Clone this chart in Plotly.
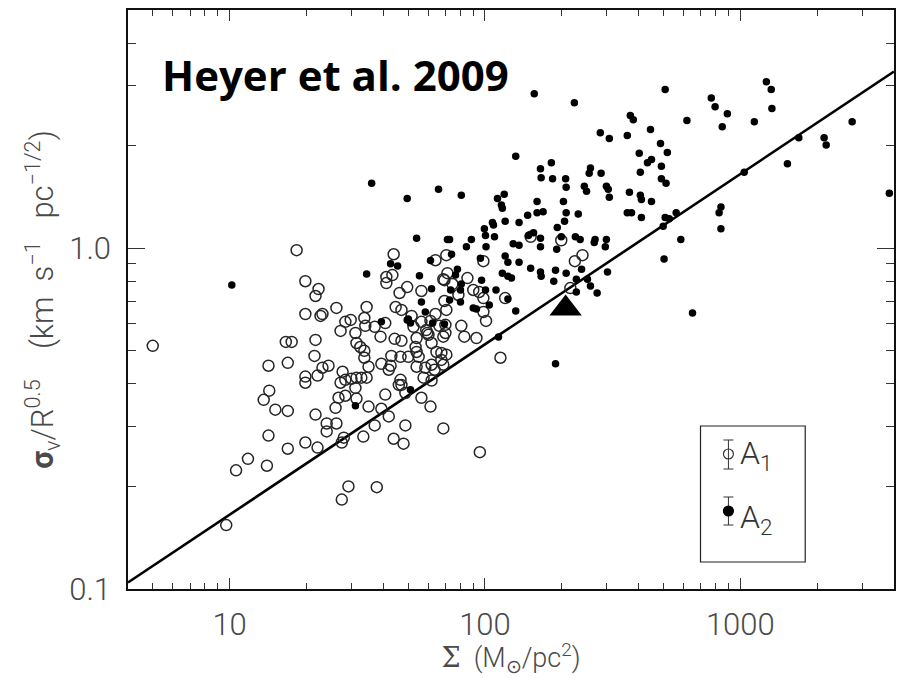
import plotly.graph_objects as go

# ---------------- data ----------------
# A1 clouds (open circles): surface density (Msun/pc^2) and sigma_v/R^0.5
a1_surf = [18.3, 5.0, 43.9, 64.0, 70.6, 19.8, 22.3, 21.7, 41.1, 43.4, 41.1, 49.6, 46.3, 56.4, 68.7,
           26.2, 34.4, 19.8, 22.7, 23.1, 44.7, 47.1, 64.0, 69.4, 28.4, 29.8, 27.2, 33.7, 34.0, 37.0,
           40.7, 39.0, 51.6, 52.5, 56.4, 58.9, 54.0, 60.1, 61.8, 68.7, 67.5, 16.6, 17.5, 21.7, 31.4,
           32.5, 33.7, 44.3, 47.1, 21.5, 33.7, 35.0, 43.0, 46.7, 50.1, 54.0, 55.0, 54.0, 58.4, 61.8,
           16.9, 14.2, 24.4, 23.1, 22.1, 19.8, 19.8, 27.7, 27.2, 28.4, 30.0, 31.4, 32.8, 34.4, 31.1,
           39.3, 42.7, 42.0, 46.7, 47.1, 46.0, 48.8, 40.7, 61.8, 14.3, 13.6, 15.1, 16.9, 26.7, 28.4,
           26.0, 31.4, 35.0, 39.3, 42.0, 56.4, 61.2, 21.7, 26.2, 24.0, 24.0, 37.0, 48.8, 68.7, 14.2,
           19.8, 16.9, 22.1, 28.0, 27.5, 33.4, 43.9, 48.0, 11.8, 10.6, 14.0, 9.7, 98.6, 71.3, 69.4,
           74.6, 85.4, 90.0, 95.0, 98.6, 78.7, 120, 151, 199, 225, 241, 216, 70.6, 61.2, 66.3,
           70.0, 80.8, 70.0, 59.5, 92.6, 83.0, 101, 98.6, 53.5, 64.6, 70.6, 67.5, 63.5, 57.5,
           68.7, 115, 31.1, 27.5, 29.2, 37.7, 95.5]
a1_val = [0.987, 0.517, 0.960, 0.922, 0.954, 0.800, 0.759, 0.724, 0.823, 0.834, 0.790, 0.769, 0.739, 0.749, 0.811,
          0.668, 0.672, 0.641, 0.633, 0.641, 0.672, 0.659, 0.641, 0.700, 0.608, 0.616, 0.572, 0.624, 0.592, 0.588,
          0.603, 0.550, 0.633, 0.588, 0.608, 0.575, 0.545, 0.557, 0.527, 0.550, 0.493, 0.531, 0.531, 0.538, 0.527,
          0.513, 0.500, 0.542, 0.535, 0.483, 0.477, 0.449, 0.483, 0.480, 0.480, 0.496, 0.480, 0.449, 0.446, 0.455,
          0.461, 0.452, 0.452, 0.446, 0.423, 0.420, 0.403, 0.434, 0.403, 0.411, 0.414, 0.417, 0.417, 0.417, 0.389,
          0.458, 0.452, 0.440, 0.411, 0.397, 0.397, 0.376, 0.372, 0.409, 0.382, 0.359, 0.336, 0.333, 0.364, 0.369,
          0.340, 0.362, 0.343, 0.338, 0.321, 0.364, 0.343, 0.325, 0.306, 0.306, 0.290, 0.302, 0.302, 0.296, 0.282,
          0.269, 0.258, 0.260, 0.278, 0.269, 0.280, 0.276, 0.267, 0.241, 0.223, 0.230, 0.154, 0.916, 0.845, 0.806,
          0.785, 0.817, 0.754, 0.744, 0.714, 0.729, 0.714, 1.080, 1.055, 0.916, 0.954, 0.764, 0.659, 0.612, 0.592,
          0.596, 0.592, 0.564, 0.564, 0.545, 0.550, 0.612, 0.650, 0.513, 0.496, 0.487, 0.470, 0.440, 0.417,
          0.455, 0.477, 0.564, 0.183, 0.200, 0.199, 0.252]

# A2 clouds (filled circles)
a2_surf = [36.0, 49.6, 65.8, 54.0, 71.3, 10.2, 42.7, 45.5, 61.2, 34.4, 55.4, 61.8, 56.4, 58.4, 39.3,
           49.6, 51.1, 62.4, 69.4, 51.1, 31.1, 156, 224, 508, 618, 371, 381, 283, 307, 361,
           445, 487, 518, 402, 433, 449, 491, 406, 132, 165, 182, 166, 184, 207, 259,
           256, 285, 208, 245, 250, 299, 304, 307, 368, 406, 410, 449, 491, 512, 80.8,
           112, 119, 116, 117, 160, 160, 169, 147, 136, 120, 107, 108, 99.5, 100.5, 109,
           101, 88.5, 84.6, 72.7, 203, 208, 232, 205, 192, 148, 155, 165, 199, 226,
           236, 270, 268, 299, 296, 165, 191, 361, 375, 410, 508, 527, 561, 499, 585,
           503, 302, 120, 123, 136, 151, 165, 166, 189, 186, 208, 239, 228, 252, 259,
           275, 228, 117, 123, 127, 110.5, 96, 74.0, 78, 76.7, 80.8, 80.2, 97, 100.5, 90,
           92.6, 104, 123, 132, 73.4, 72.7, 80.2, 50.1, 113, 189, 650, 840, 826, 840,
           770, 797, 890, 850, 1135, 1265, 1322, 1330, 2743, 1695, 2130, 2170, 1530, 1036, 3835,
           129, 136]
a2_val = [1.55, 1.40, 1.49, 1.07, 1.06, 0.78, 0.90, 0.886, 0.92, 0.84, 0.83, 0.76, 0.695, 0.65, 0.608,
          0.616, 0.603, 0.603, 0.599, 0.384, 0.345, 2.84, 2.67, 2.92, 2.37, 2.45, 2.38, 2.18, 2.10, 2.14,
          2.23, 2.03, 1.91, 1.90, 1.78, 1.82, 1.74, 1.67, 1.86, 1.71, 1.78, 1.61, 1.60, 1.60, 1.72,
          1.66, 1.66, 1.51, 1.52, 1.47, 1.52, 1.49, 1.41, 1.46, 1.43, 1.39, 1.37, 1.60, 1.55, 1.43,
          1.40, 1.44, 1.34, 1.31, 1.37, 1.27, 1.28, 1.25, 1.19, 1.20, 1.19, 1.17, 1.14, 1.09, 1.08,
          1.01, 1.06, 1.01, 1.06, 1.37, 1.27, 1.26, 1.20, 1.15, 1.09, 1.11, 1.07, 1.08, 1.08,
          1.06, 1.06, 1.04, 1.06, 1.01, 1.01, 0.993, 1.27, 1.27, 1.23, 1.23, 1.22, 1.27, 1.16, 1.06,
          0.929, 0.851, 0.948, 0.910, 0.910, 0.874, 0.851, 0.828, 0.862, 0.80, 0.845, 0.868, 0.811, 0.811, 0.774,
          0.739, 0.744, 0.845, 0.828, 0.817, 0.754, 0.935, 0.960, 0.868, 0.834, 0.785, 0.754, 0.806, 0.754, 0.668,
          0.663, 0.681, 0.709, 0.654, 0.754, 0.705, 0.695, 0.620, 0.549, 0.458, 0.645, 1.32, 1.27, 1.14,
          2.76, 2.60, 2.48, 2.27, 2.35, 3.08, 2.92, 2.57, 2.35, 2.11, 2.11, 2.01, 1.77, 1.67, 1.45,
          1.03, 1.02]

# highlighted source (triangle)
tri_surf = [207]
tri_val = [0.665]

# relation line end points
fit_surf = [4, 4000]
fit_val = [0.1045, 3.30]

x_tickvals = [10, 100, 1000]
x_ticktext = ["10", "100", "1000"]
y_tickvals = [0.1, 1.0]
y_ticktext = ["0.1", "1.0"]

# ---------------- figure ----------------
LABEL_FAMILY = "Roboto"
TICKFONT = dict(family=LABEL_FAMILY, size=31, color="#4a4a4a", weight=300)
GRAY = "#333333"

fig = go.Figure()
fig.add_trace(go.Scatter(x=fit_surf, y=fit_val, mode="lines",
                         line=dict(color="black", width=2.6), showlegend=False, hoverinfo="skip"))
fig.add_trace(go.Scatter(x=a1_surf, y=a1_val, mode="markers",
                         marker=dict(symbol="circle-open", size=11, color="#262626", line=dict(width=1.5)),
                         showlegend=False))
fig.add_trace(go.Scatter(x=a2_surf, y=a2_val, mode="markers",
                         marker=dict(symbol="circle", size=7.5, color="black", line=dict(width=0)),
                         showlegend=False))
fig.add_trace(go.Scatter(x=tri_surf, y=tri_val, mode="markers",
                         marker=dict(symbol="triangle-up", size=28, color="black", line=dict(width=0)),
                         showlegend=False))

fig.update_xaxes(type="log", range=[0.60206, 3.60206],
                 tickvals=x_tickvals, ticktext=x_ticktext,
                 ticks="inside", ticklen=11, tickwidth=1, tickcolor=GRAY,
                 minor=dict(ticks="inside", ticklen=6, tickwidth=1, tickcolor=GRAY, dtick="D1", showgrid=False),
                 showline=True, linecolor="#111111", linewidth=1.5, mirror="ticks",
                 showgrid=False, zeroline=False, tickfont=TICKFONT, ticklabelstandoff=7,
                 title=dict(text="<span style='font-family:DejaVu Serif'>Σ</span>  (M<sub>⊙</sub>/pc<sup>2</sup>)",
                            font=dict(family=LABEL_FAMILY, size=27, color="#4a4a4a", weight=300), standoff=11))
fig.update_yaxes(type="log", range=[-1, 0.69897],
                 tickvals=y_tickvals, ticktext=y_ticktext,
                 ticks="inside", ticklen=17, tickwidth=1, tickcolor=GRAY,
                 minor=dict(ticks="inside", ticklen=8, tickwidth=1, tickcolor=GRAY, dtick="D1", showgrid=False),
                 showline=True, linecolor="#111111", linewidth=1.5, mirror="ticks",
                 showgrid=False, zeroline=False, tickfont=TICKFONT, ticklabelstandoff=9,
                 title=dict(text="<b>σ</b><sub>v</sub>/R<sup>0.5</sup>    (km  s<sup>−1</sup>   pc<sup>−1/2</sup>)",
                            font=dict(family=LABEL_FAMILY, size=31, color="#4a4a4a", weight=300), standoff=6))

# custom legend box
def px_x(p):
    return (p - 128) / 768.0

def px_y(p):
    return (589 - p) / 579.0

shapes = [
    dict(type="rect", xref="paper", yref="paper", x0=px_x(702), x1=px_x(807), y0=px_y(562), y1=px_y(426),
         line=dict(color="#222222", width=1.2), fillcolor="white"),
]
for cy, top, bot, filled in [(454, 440, 469, False), (511, 497, 525, True)]:
    shapes.append(dict(type="line", xref="paper", yref="paper", x0=px_x(730), x1=px_x(730),
                       y0=px_y(top), y1=px_y(bot), line=dict(color=GRAY, width=1)))
    for cap in (top, bot):
        shapes.append(dict(type="line", xref="paper", yref="paper", x0=px_x(725), x1=px_x(735),
                           y0=px_y(cap), y1=px_y(cap), line=dict(color=GRAY, width=1)))
    shapes.append(dict(type="circle", xref="paper", yref="paper", x0=px_x(725), x1=px_x(735),
                       y0=px_y(cy + 5), y1=px_y(cy - 5),
                       line=dict(color="black" if filled else GRAY, width=1.2),
                       fillcolor="black" if filled else "rgba(0,0,0,0)"))

annotations = [
    dict(text="<b>Heyer et al. 2009</b>", xref="paper", yref="paper", x=px_x(160), y=px_y(74),
         xanchor="left", yanchor="middle", showarrow=False,
         font=dict(family="Open Sans", size=42, color="black")),
    dict(text="A<sub>1</sub>", xref="paper", yref="paper", x=px_x(740), y=px_y(455),
         xanchor="left", yanchor="middle", showarrow=False,
         font=dict(family=LABEL_FAMILY, size=32, color="#333333", weight=300)),
    dict(text="A<sub>2</sub>", xref="paper", yref="paper", x=px_x(740), y=px_y(519),
         xanchor="left", yanchor="middle", showarrow=False,
         font=dict(family=LABEL_FAMILY, size=32, color="#333333", weight=300)),
]

fig.update_layout(width=899, height=678, margin=dict(l=128, r=3, t=10, b=89),
                  paper_bgcolor="white", plot_bgcolor="white",
                  shapes=shapes, annotations=annotations, showlegend=False)

fig.write_html("out.html")
